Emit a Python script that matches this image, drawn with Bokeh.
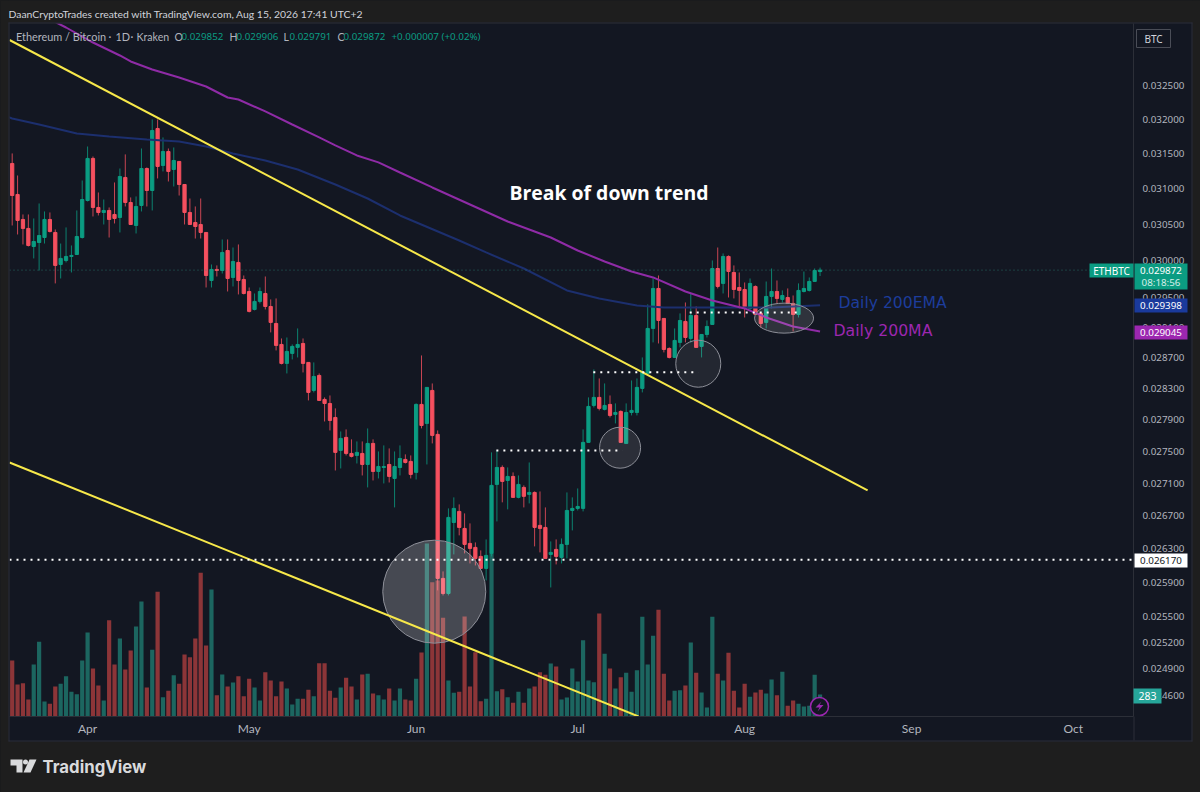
from datetime import datetime, timedelta, timezone
from bokeh.plotting import figure
from bokeh.core.properties import value
from bokeh.models import (Range1d, LinearScale, FixedTicker, PrintfTickFormatter, DatetimeTickFormatter, Span)
from bokeh.embed import file_html
from bokeh.resources import INLINE

# ---------- data (prices in millionths of BTC) ----------
first_day = datetime(2026, 3, 18, tzinfo=timezone.utc)

opens = [31363,30922,30571,30446,30196,30251,30320,30571,30390,29949,30004,30059,30086,30320,30837,31435,30739,30669,30697,30641,
30599,31163,30809,30487,30767,31291,30978,31868,31334,31535,31277,31392,31063,30669,30529,30501,30390,29731,29881,29867,
30141,29772,29977,29745,29582,29340,29448,29555,29380,29153,28875,28626,28757,28836,28888,28639,28275,28469,28159,28107,
27928,27511,27675,27473,27448,27473,27335,27599,27248,27297,27335,27161,27297,27398,27373,27236,28095,27852,28275,27713,
25949,25771,26620,26755,26548,26367,26319,26211,26068,26247,27087,27298,27136,27186,26927,27050,26964,26988,26585,26560,
26235,26295,26199,26355,26767,26792,26792,27612,28082,28185,28031,28095,27967,28005,27599,27992,27992,28301,28495,29087,
29623,29220,28822,28704,28902,29180,28954,29260,28849,29007,29140,29894,29691,30059,29840,29636,29609,29354,29650,29287,
29167,29515,29582,29475,29501,29421,29273,29582,29596,29718,29852]
highs = [31507,31191,30641,30641,30585,30795,30683,30669,30432,30237,30460,30210,30697,31120,31607,31463,30950,30851,30739,31092,
31291,31493,30880,30894,31578,31306,32000,32000,31738,31578,31593,31392,31063,30865,30753,30865,30390,29949,29936,30293,
30293,30182,30224,29799,29636,29555,29636,29785,29475,29488,28954,28967,28875,29087,28954,28639,28639,28495,28185,28210,
28044,27750,27776,27650,27624,27624,27788,27650,27498,27574,27536,27498,27574,27461,27448,28108,28730,28314,28365,27763,
26032,26792,26927,26841,26731,26609,26379,26283,26415,27486,27511,27323,27298,27236,27198,27075,27360,27000,27000,26804,
26391,26415,26427,26988,26927,27037,27776,28185,28547,28430,28365,28210,28108,28018,28108,28404,28430,28704,29408,29758,
29799,29220,28836,29087,29287,29434,29555,29380,29007,29193,30004,30182,30100,30073,29936,29840,29704,29758,29663,29300,
29717,29894,29731,29596,29623,29528,29691,29853,29772,29894,29906]
lows = [30487,30362,30224,30196,30032,29867,30237,30390,29691,29758,29977,29840,30086,30306,30823,30613,30627,30501,30320,30515,
30390,30753,30501,30376,30683,30753,30697,31149,31249,31106,31035,30907,30501,30501,30306,30306,29636,29636,29785,29826,
29582,29650,29542,29542,29300,29327,29421,29340,29034,28796,28613,28495,28678,28704,28508,28146,28249,28146,27877,27763,
27260,27285,27448,27423,27347,27198,27050,27136,27161,27099,27111,26804,27198,27347,27161,27148,27789,27335,27599,25807,
25748,25748,26235,26464,26247,26127,26103,26068,25925,26211,26633,26866,26780,26927,26915,26804,26853,26331,26259,26187,
25842,26115,26127,26187,26524,26767,26755,27612,28056,28018,28018,27928,27852,27612,27599,27954,27954,28249,28469,28902,
28888,28770,28691,28704,28836,28902,28902,28836,28704,28967,29140,29623,29555,29501,29488,29354,29233,29327,29273,29100,
29087,29354,29421,29434,29421,29047,29233,29569,29582,29718,29791]
closes = [30907,30557,30446,30210,30265,30348,30571,30404,29936,30032,30059,30073,30334,30851,31435,30739,30669,30697,30571,30585,
31177,30809,30501,30753,31291,30978,31839,31320,31535,31249,31406,31063,30669,30501,30473,30390,29799,29881,29867,30114,
29758,29990,29731,29555,29314,29448,29582,29380,29167,28862,28626,28783,28849,28875,28626,28249,28456,28146,28107,27890,
27486,27662,27473,27436,27486,27335,27599,27248,27310,27310,27186,27310,27410,27360,27211,28095,27826,28314,27700,25949,
25771,26682,26792,26560,26355,26307,26187,26068,26223,27075,27298,27124,27186,26927,27087,26940,26988,26560,26548,26187,
26259,26211,26355,26767,26792,26816,27612,28069,28185,28044,28082,27954,27992,27612,27992,28018,28314,28508,29087,29623,
29193,28809,28704,28928,29193,28967,29260,28836,29007,29113,29894,29650,30059,29854,29609,29596,29367,29691,29273,29153,
29515,29582,29488,29528,29421,29273,29596,29623,29718,29867,29872]
volumes = [722,413,430,219,671,963,194,163,387,421,520,318,288,722,1084,619,400,206,1243,671,
1006,606,851,1161,1484,374,860,1608,249,331,533,421,800,765,1006,1853,916,1638,275,542,
387,439,520,262,486,374,206,572,464,262,452,361,155,228,228,344,262,688,688,331,
241,374,499,387,219,542,550,297,275,219,361,206,361,219,206,486,826,2232,1733,1754,
1273,464,305,318,1290,387,830,198,228,2103,327,353,249,176,318,176,361,387,572,538,
684,645,219,245,619,452,985,464,443,1329,808,619,361,507,563,318,598,1286,671,1041,
1376,550,206,331,340,400,955,563,310,116,1286,550,464,821,331,116,421,254,310,344,
297,477,275,576,138,206,163,129,138,538,283]

ma200_day = [6,10,15,20,22,26,31,36,40,42,47,52,57,60,64,68,72,78,85,92,100,105,110,115,119,125,130,136,140,145,150]
ma200 = [33540,33372,33144,32948,32858,32738,32619,32485,32322,32292,32117,31926,31738,31622,31478,31378,31234,31021,30781,30543,
30320,30141,29990,29853,29772,29582,29461,29354,29233,29113,29045]
ema200_day = [-1,0,5,12,18,25,31,36,41,47,53,60,66,72,83,88,95,103,109,116,121,128,134,141,150]
ema200 = [32043,32014,31926,31795,31752,31708,31680,31607,31507,31406,31277,31063,30865,30627,30279,30114,29894,29596,29488,29394,
29367,29367,29367,29367,29398]

trend_upper_day = [-0.5, 158.83]
trend_upper = [33182, 27013]
trend_lower_day = [-0.5, 116.3]
trend_lower = [27360, 24363]

level_main = 26170
last_close = 29872
levels = [(89.9, 113.3, 27511), (107.9, 127.4, 28512), (125.8, 145.8, 29300)]

highlight_day = [78.37, 112.87, 127.39, 143.32]
highlight_price = [25792, 27545, 28622, 29224]
highlight_w = [103, 41, 45, 59]
highlight_h = [103, 41, 47, 30]
highlight_alpha = [0.22, 0.1, 0.07, 0.12]

price_ticks = [32500,32000,31500,31000,30500,30000,29500,29100,28700,28300,27900,27500,27100,26700,26300,25900,25500,25200,24900,24600]
month_ticks = [(2026,4),(2026,5),(2026,6),(2026,7),(2026,8),(2026,9),(2026,10)]

# ---------- colours ----------
BG = "#1e1e1e"
PANEL = "#131722"
UP = "#0b9c82"
DOWN = "#f5505f"
VOL_UP = "#1c6660"
VOL_DOWN = "#8c3538"
YELLOW = "#f7e84a"
PURPLE = "#9c27b0"
PURPLE_LINE = "#8f2ba6"
BLUE = "#1c2f6e"
GREY = "#b2b5be"
LINE = "#2c2f38"

def day(i):
    return first_day + timedelta(days=i)
def ms(i):
    return day(i).timestamp() * 1000.0
def px(v):
    return v / 1e6

W, H = 1200, 792
p = figure(width=W, height=H, output_backend="svg", toolbar_location=None,
           x_axis_type="datetime", y_axis_type="log", y_axis_location="right",
           x_range=Range1d(ms(-0.5), ms(208.2)), y_range=Range1d(0.024363, 0.033433),
           min_border_left=9, min_border_right=67, min_border_top=23, min_border_bottom=76,
           background_fill_color=PANEL, border_fill_color=PANEL, outline_line_color=None)
p.extra_y_ranges["vol"] = Range1d(0, 8940)
p.extra_y_scales["vol"] = LinearScale()
p.grid.visible = False

p.yaxis.ticker = FixedTicker(ticks=[px(t) for t in price_ticks])
p.yaxis.formatter = PrintfTickFormatter(format="%.6f")
p.yaxis.major_label_text_color = GREY
p.yaxis.major_label_text_font = "Noto Sans"
p.yaxis.major_label_text_font_size = "9.8px"
p.yaxis.major_tick_line_color = None
p.yaxis.minor_tick_line_color = None
p.yaxis.axis_line_color = LINE
p.yaxis.major_label_standoff = 3

p.xaxis.ticker = FixedTicker(ticks=[datetime(y, m, 1, tzinfo=timezone.utc).timestamp() * 1000.0 for y, m in month_ticks])
p.xaxis.formatter = DatetimeTickFormatter(days="%b", months="%b", years="%b", hours="%b", minutes="%b", seconds="%b",
                                          milliseconds="%b", microseconds="%b", context=None)
p.xaxis.major_label_text_color = GREY
p.xaxis.major_label_text_font = "Lato"
p.xaxis.major_label_text_font_size = "12px"
p.xaxis.major_tick_line_color = None
p.xaxis.minor_tick_line_color = None
p.xaxis.axis_line_color = LINE
p.xaxis.major_label_standoff = -2

# ---------- volume ----------
n = len(opens)
dates = [day(i) for i in range(n)]
is_up = [closes[i] >= opens[i] for i in range(n)]
p.vbar(x=dates, top=volumes, bottom=0, width=0.78 * 86400000, y_range_name="vol", line_color=None,
       fill_color=[VOL_UP if u else VOL_DOWN for u in is_up])

# ---------- candles ----------
cols = [UP if u else DOWN for u in is_up]
p.segment(x0=dates, x1=dates, y0=[px(v) for v in lows], y1=[px(v) for v in highs], line_color=cols, line_alpha=0.8, line_width=1)
p.vbar(x=dates, top=[px(max(o_, c)) for o_, c in zip(opens, closes)], bottom=[px(min(o_, c)) for o_, c in zip(opens, closes)],
       width=0.6 * 86400000, fill_color=cols, line_color=cols, line_width=1)

# ---------- moving averages ----------
p.line([day(i) for i in ema200_day], [px(v) for v in ema200], line_color=BLUE, line_width=2)
p.line([day(i) for i in ma200_day], [px(v) for v in ma200], line_color=PURPLE_LINE, line_width=2)

# ---------- highlights ----------
p.ellipse(x=[day(i) for i in highlight_day], y=[px(v) for v in highlight_price],
          width=highlight_w, height=highlight_h, width_units="screen", height_units="screen",
          fill_color="#ffffff", fill_alpha=highlight_alpha, line_color="#8d8f98", line_width=1)

# ---------- trend lines and levels ----------
p.line([day(i) for i in trend_upper_day], [px(v) for v in trend_upper], line_color=YELLOW, line_width=2)
p.line([day(i) for i in trend_lower_day], [px(v) for v in trend_lower], line_color=YELLOW, line_width=2)
for a, b, v in levels:
    p.line([day(a), day(b)], [px(v), px(v)], line_color="#ffffff", line_width=2, line_dash="2 5")
p.add_layout(Span(location=px(level_main), dimension="width", line_color="#ffffff", line_width=2, line_dash="2 5"))
p.add_layout(Span(location=px(last_close), dimension="width", line_color="#2f8f80", line_alpha=0.7, line_width=1, line_dash="1 3"))

# ---------- overlay sheet: frame, header, price tags, logo ----------
o = figure(width=W, height=H, output_backend="svg", toolbar_location=None,
           x_range=Range1d(0, W), y_range=Range1d(H, 0), x_axis_location=None, y_axis_location=None,
           min_border_left=0, min_border_right=0, min_border_top=0, min_border_bottom=0,
           background_fill_color=None, border_fill_color=None, outline_line_color=None)
o.grid.visible = False

def box(l, r, t, b, color, line=None):
    o.quad(left=[l], right=[r], top=[t], bottom=[b], fill_color=color, line_color=line)

def txt(x, y, s, color, size, font="Noto Sans", weight="normal", align="left"):
    o.text(x=[x], y=[y], text=[s], text_color=color, text_font=value(font), text_font_size=f"{size}px",
           text_font_style=weight, text_align=align, text_baseline="middle")

# outer frame
box(0, W, 0, 22, BG)
box(0, W, 741, H, BG)
box(0, 8, 0, H, BG)
box(1192, W, 0, H, BG)
box(8, 1192, 22, 23, LINE)
box(8, 1192, 740, 741, LINE)
box(8, 9, 22, 741, LINE)
box(1191, 1192, 22, 741, LINE)
box(1133, 1134, 716, 740, LINE)

txt(509, 191.5, "Break of down trend", "#ffffff", 19.4, "Open Sans", "bold")
txt(838, 302, "Daily 200EMA", "#1d3d9c", 15.6, "DejaVu Sans")
txt(833, 330, "Daily 200MA", PURPLE, 15.7, "DejaVu Sans")

txt(8, 13, "DaanCryptoTrades created with TradingView.com, Aug 15, 2026 17:41 UTC+2", "#d1d4dc", 10.4, "Lato")
txt(15.5, 36, "Ethereum / Bitcoin", GREY, 10.9, "Lato")
txt(108, 36, "·", GREY, 10.9, "Lato")
txt(115, 36, "1D", GREY, 10.9, "Lato")
txt(130, 36, "·", GREY, 10.9, "Lato")
txt(136, 36, "Kraken", GREY, 10.6, "Lato")
for x0, letter, x1, val in [(174, "O", 181, "0.029852"), (229, "H", 236, "0.029906"), (283, "L", 289, "0.029791"), (337, "C", 343, "0.029872")]:
    txt(x0, 36, letter, GREY, 10.5, "Lato")
    txt(x1, 36, val, UP, 9.8)
txt(391, 36, "+0.000007 (+0.02%)", UP, 9.8)

box(1136, 1170, 29, 47, PANEL, line="#4a4d57")
txt(1153, 38, "BTC", "#d1d4dc", 10, align="center")

TEAL = "#0b9c82"
box(1089, 1133, 263, 277, TEAL)
txt(1111, 270, "ETHBTC", "#ffffff", 10, align="center")
box(1134, 1187, 263, 289, TEAL)
txt(1160.5, 270, "0.029872", "#ffffff", 9.8, align="center")
txt(1160.5, 282, "08:18:56", "#d5efe9", 9.8, align="center")
box(1134, 1187, 298, 312, "#1a3a9c")
txt(1160.5, 305, "0.029398", "#ffffff", 9.8, align="center")
box(1134, 1187, 325, 339, PURPLE)
txt(1160.5, 332, "0.029045", "#ffffff", 9.8, align="center")
box(1134, 1187, 553, 567, "#ffffff")
txt(1160.5, 560, "0.026170", "#131722", 9.8, align="center")
box(1133, 1161, 688, 703, "#26a69a")
txt(1147, 695.5, "283", "#ffffff", 10.5, align="center")

o.ellipse(x=[819], y=[706], width=18, height=18, fill_color=PANEL, line_color=PURPLE, line_width=1.5)
o.patch(x=[821, 815, 819, 817, 823, 819], y=[701, 707, 707, 711, 704.5, 704.5], fill_color=PURPLE, line_color=None)

LOGO = "#d9dadc"
o.patch(x=[10, 22, 22, 16, 16, 10], y=[759, 759, 772, 772, 765, 765], fill_color=LOGO, line_color=None)
o.ellipse(x=[25], y=[761.5], width=5, height=5, fill_color=LOGO, line_color=None)
o.patch(x=[29, 36, 30, 23], y=[759, 759, 772, 772], fill_color=LOGO, line_color=None)
txt(42, 766, "TradingView", LOGO, 16.8, "Inter", "bold")

o.styles = {"position": "absolute", "left": "0", "top": "0"}

html = file_html([p, o], INLINE)
html = html.replace("</head>", "<style>html,body{background:#1e1e1e;overflow:hidden;}</style></head>")
open("out.html", "w").write(html)
